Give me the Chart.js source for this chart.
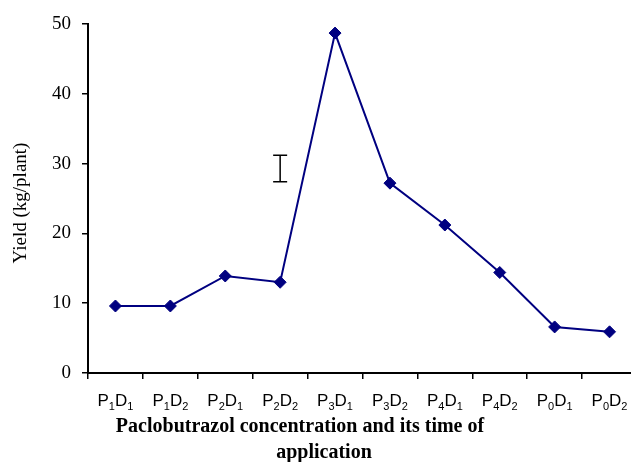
<!DOCTYPE html>
<html>
<head>
<meta charset="utf-8">
<script src="https://cdn.jsdelivr.net/npm/chart.js@4.4.1/dist/chart.umd.min.js"></script>
<style>
  html, body { margin: 0; padding: 0; background: #fff; overflow: hidden; }
  #wrap { width: 644px; height: 462px; }
</style>
</head>
<body>
<div id="wrap"><canvas id="myChart" width="644" height="462"></canvas></div>
<script>
// Datos del gráfico
const categories = ['P1D1', 'P1D2', 'P2D1', 'P2D2', 'P3D1', 'P3D2', 'P4D1', 'P4D2', 'P0D1', 'P0D2'];
const yieldValues = [9.6, 9.6, 13.9, 13.0, 48.7, 27.2, 21.2, 14.4, 6.6, 5.9];
const yTicks = [0, 10, 20, 30, 40, 50];
// Barra de CD (error) dibujada sobre la categoría indicada
const cdCategory = 'P2D2';
const cdRange = [27.4, 31.2];

const xTitleLines = ['Paclobutrazol concentration and its time of', 'application'];
const yTitle = 'Yield (kg/plant)';

const navy = '#000080';

// Plugin: etiquetas con subíndices, títulos de ejes y barra de CD
const extrasPlugin = {
    id: 'extras',
    afterDraw(chart) {
        const ctx = chart.ctx;
        const x = chart.scales.x;
        const y = chart.scales.y;
        ctx.save();

        // etiquetas del eje x con subíndices
        ctx.fillStyle = '#000';
        ctx.textBaseline = 'alphabetic';
        categories.forEach((cat, i) => {
            const parts = cat.match(/([A-Z])(\d)([A-Z])(\d)/);
            const segs = [
                { t: parts[1], sub: false },
                { t: parts[2], sub: true },
                { t: parts[3], sub: false },
                { t: parts[4], sub: true }
            ];
            let total = 0;
            segs.forEach(s => {
                ctx.font = s.sub ? '11px "Liberation Sans", Arial' : '17px "Liberation Sans", Arial';
                s.w = ctx.measureText(s.t).width;
                total += s.w;
            });
            let cx = x.getPixelForValue(i) - total / 2;
            segs.forEach(s => {
                ctx.font = s.sub ? '11px "Liberation Sans", Arial' : '17px "Liberation Sans", Arial';
                ctx.textAlign = 'left';
                ctx.fillText(s.t, cx, s.sub ? 410 : 406);
                cx += s.w;
            });
        });

        // título del eje x
        ctx.font = 'bold 20px "Liberation Serif", "Times New Roman"';
        ctx.textAlign = 'center';
        ctx.fillText(xTitleLines[0], 300, 432);
        ctx.fillText(xTitleLines[1], 324, 458);

        // título del eje y
        ctx.save();
        ctx.translate(26, 203);
        ctx.rotate(-Math.PI / 2);
        ctx.font = '19px "Liberation Serif", "Times New Roman"';
        ctx.textAlign = 'center';
        ctx.fillText(yTitle, 0, 0);
        ctx.restore();

        // barra de CD
        const bx = x.getPixelForValue(categories.indexOf(cdCategory));
        const yLo = y.getPixelForValue(cdRange[0]);
        const yHi = y.getPixelForValue(cdRange[1]);
        ctx.strokeStyle = '#000';
        ctx.lineWidth = 1.5;
        ctx.beginPath();
        ctx.moveTo(bx, yLo); ctx.lineTo(bx, yHi);
        ctx.moveTo(bx - 7, yLo); ctx.lineTo(bx + 7, yLo);
        ctx.moveTo(bx - 7, yHi); ctx.lineTo(bx + 7, yHi);
        ctx.stroke();

        ctx.restore();
    }
};

const ctx = document.getElementById('myChart').getContext('2d');
const myChart = new Chart(ctx, {
    type: 'line',
    data: {
        labels: categories,
        datasets: [{
            data: yieldValues,
            borderColor: navy,
            backgroundColor: navy,
            borderWidth: 2,
            pointStyle: 'rectRot',
            pointRadius: 6,
            pointBorderWidth: 1,
            pointBackgroundColor: navy,
            pointBorderColor: navy,
            tension: 0
        }]
    },
    options: {
        responsive: false,
        animation: false,
        events: [],
        layout: {
            padding: { top: 24, right: 0, bottom: 0, left: 0 }
        },
        plugins: {
            legend: { display: false },
            tooltip: { enabled: false }
        },
        scales: {
            x: {
                type: 'category',
                offset: true,
                grid: {
                    offset: true,
                    drawOnChartArea: false,
                    drawTicks: true,
                    tickLength: 6,
                    color: '#000',
                    lineWidth: 1.5
                },
                border: { display: true, color: '#000', width: 2 },
                ticks: { display: false },
                afterFit(scale) { scale.height = 89; }
            },
            y: {
                min: 0,
                max: 50,
                afterBuildTicks(scale) {
                    scale.ticks = yTicks.map(v => ({ value: v }));
                },
                grid: {
                    drawOnChartArea: false,
                    drawTicks: true,
                    tickLength: 6,
                    color: '#000',
                    lineWidth: 1.5
                },
                border: { display: true, color: '#000', width: 2 },
                ticks: {
                    color: '#000',
                    padding: 11,
                    font: { family: '"Liberation Serif", "Times New Roman"', size: 19 }
                },
                afterFit(scale) { scale.width = 88; }
            }
        }
    },
    plugins: [extrasPlugin]
});
</script>
</body>
</html>
